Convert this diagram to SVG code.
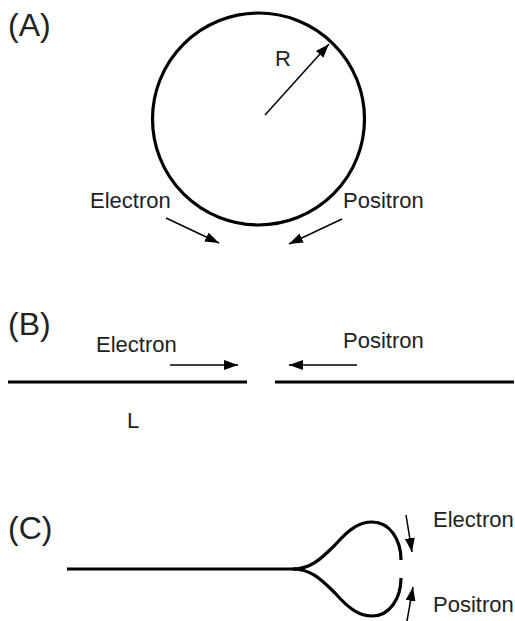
<svg xmlns="http://www.w3.org/2000/svg" width="515" height="621" viewBox="0 0 515 621">
<defs>
<marker id="ah" markerUnits="userSpaceOnUse" markerWidth="14" markerHeight="10" viewBox="0 0 14 10" refX="14" refY="5" orient="auto">
<path d="M0,0 L14,5 L0,10 Z" fill="#000"/>
</marker>
</defs>
<style>
.lbl{font-family:"Liberation Sans",Arial,sans-serif;font-size:22px;fill:#222}
.pan{font-family:"Liberation Sans",Arial,sans-serif;font-size:32px;fill:#222}
.thick{fill:none;stroke:#000;stroke-width:3.2}
.arr{fill:none;stroke:#000;stroke-width:1.5;marker-end:url(#ah)}
</style>
<rect width="515" height="621" fill="#fff"/>
<g id="panelA">
<text class="pan" x="8" y="36">(A)</text>
<g id="ring"><circle class="thick" cx="258.5" cy="119" r="106"/></g>
<text class="lbl" x="275" y="66">R</text>
<text class="lbl" x="90" y="208">Electron</text>
<text class="lbl" x="343" y="208">Positron</text>
</g>
<g id="panelB">
<text class="pan" x="8" y="335">(B)</text>
<g id="linacL"><line class="thick" x1="8" y1="382" x2="247" y2="382"/></g>
<g id="linacR"><line class="thick" x1="275" y1="382" x2="514" y2="382"/></g>
<text class="lbl" x="96" y="352">Electron</text>
<text class="lbl" x="343" y="348">Positron</text>
<text class="lbl" x="127" y="428">L</text>
</g>
<g id="panelC">
<text class="pan" x="8" y="539">(C)</text>
<g id="slc">
<line class="thick" x1="67" y1="569" x2="295" y2="569"/>
<path class="thick" d="M293 569 C310 569 320 560 335 545 C350 528 360 522 372 522 C390 522 401 540 401 560"/>
<path class="thick" d="M293 569 C310 569 320 578 335 593 C350 610 360 616 372 616 C390 616 401 598 401 578"/>
</g>
<text class="lbl" x="433" y="527">Electron</text>
<text class="lbl" x="433" y="612">Positron</text>
</g>
<g id="connectors">
<line class="arr" x1="265" y1="115" x2="329" y2="44"/>
<line class="arr" x1="166" y1="218" x2="219" y2="243"/>
<line class="arr" x1="342" y1="219" x2="289" y2="244"/>
<line class="arr" x1="170" y1="365" x2="238" y2="365"/>
<line class="arr" x1="357" y1="365" x2="289" y2="365"/>
<line class="arr" x1="406" y1="515" x2="412" y2="552"/>
<line class="arr" x1="407" y1="621" x2="413" y2="587"/>
</g>
</svg>
